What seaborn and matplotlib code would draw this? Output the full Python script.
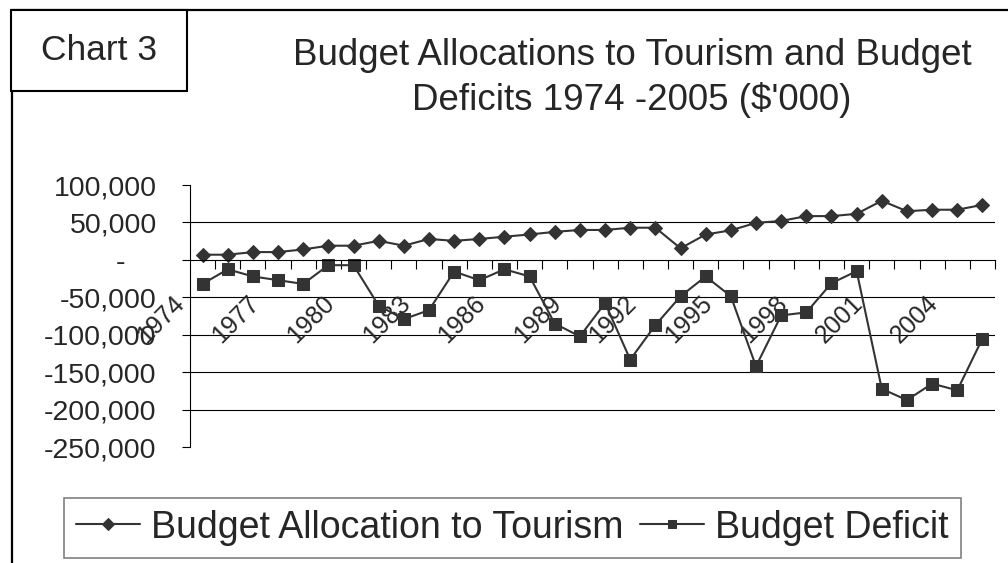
import pandas as pd
import seaborn as sns
import matplotlib.pyplot as plt
from matplotlib.ticker import FixedLocator, FuncFormatter
from matplotlib.transforms import ScaledTranslation
from matplotlib.patches import Rectangle

years = list(range(1974, 2006))
tourism = [7000, 7000, 10500, 10500, 14000, 19000, 19000, 25500, 19000, 28000,
           25500, 28000, 31000, 34000, 37500, 40000, 40000, 43000, 43000, 15500,
           34000, 39500, 49500, 52000, 58500, 58500, 61500, 79000, 65000, 67000,
           67000, 73500]
deficit = [-32000, -12500, -22000, -27000, -32000, -7000, -7000, -61000, -79000, -67000,
           -15500, -27000, -12500, -22000, -85000, -102000, -57500, -133000, -87000, -48500,
           -22000, -48500, -142000, -74000, -70000, -31000, -15000, -172000, -187000, -165000,
           -174000, -105000]
label_years = years[::3]
y_ticks = [100000, 50000, 0, -50000, -100000, -150000, -200000, -250000]

S1 = "Budget Allocation to Tourism"
S2 = "Budget Deficit"

df = pd.DataFrame({
    "Year": years * 2,
    "Value": tourism + deficit,
    "Series": [S1] * len(years) + [S2] * len(years),
})

sns.set_style("white")
plt.rcParams["font.family"] = ["Liberation Sans", "DejaVu Sans"]

fig = plt.figure(figsize=(10.08, 5.63), dpi=100)
W, H = 1008, 563
ax = fig.add_axes([190 / W, 1 - 447.3 / H, 805 / W, (447.3 - 185) / H])

dark = "#333333"
sns.lineplot(data=df, x="Year", y="Value", hue="Series", style="Series",
             palette={S1: dark, S2: dark}, markers={S1: "D", S2: "s"},
             dashes=False, linewidth=1.5, markersize=8, markeredgecolor=dark,
             ax=ax, legend=True)
for ln, ms in zip(ax.lines[:2], [7.2, 8.5]):
    ln.set_markersize(ms)

ax.set_xlim(1973.5, 2005.5)
ax.set_ylim(-250000, 100000)
ax.set_xlabel("")
ax.set_ylabel("")

# gridlines (no top / bottom)
for v in y_ticks[1:-1]:
    if v != 0:
        ax.axhline(v, color="black", linewidth=0.8, zorder=0)

for side in ["top", "right"]:
    ax.spines[side].set_visible(False)
ax.spines["left"].set_color("black")
ax.spines["left"].set_linewidth(0.8)
ax.spines["bottom"].set_position(("data", 0))
ax.spines["bottom"].set_color("black")
ax.spines["bottom"].set_linewidth(0.8)

ax.yaxis.set_major_locator(FixedLocator(y_ticks))
ax.yaxis.set_major_formatter(FuncFormatter(
    lambda v, p: "-    " if v == 0 else f"{int(v):,}"))
ax.tick_params(axis="y", which="major", direction="out", length=6, width=0.8,
               color="black", pad=18, labelsize=20.5, left=True)

ax.set_xticks(label_years)
ax.set_xticklabels([str(y) for y in label_years], rotation=45, ha="right",
                   va="top", rotation_mode="anchor")
ax.set_xticks([y + 0.5 for y in years[:-1]] + [2005.5], minor=True)
ax.tick_params(axis="x", which="major", length=0, pad=0, labelsize=18)
ax.tick_params(axis="x", which="minor", direction="out", length=6.5, width=0.8,
               color="black", bottom=True)
off = ScaledTranslation(-0.31, -0.31, fig.dpi_scale_trans)
for lab in ax.get_xticklabels():
    lab.set_transform(lab.get_transform() + off)

ax.legend(loc="center", bbox_to_anchor=(512.5 / W, 1 - 527.5 / H),
          bbox_transform=fig.transFigure, ncol=2, fontsize=27, frameon=True,
          fancybox=False, edgecolor="#808080", framealpha=1, markerscale=0.75,
          handlelength=1.7, handletextpad=0.3, columnspacing=0.45,
          borderpad=0.32, borderaxespad=0)
ax.get_legend().get_frame().set_linewidth(1.2)

# outer chart frame and "Chart 3" label box
fig.add_artist(Rectangle((12 / W, -0.1), 1.2, 1 - 10 / H + 0.1,
                         transform=fig.transFigure, fill=False,
                         edgecolor="black", linewidth=1.6))
fig.add_artist(Rectangle((11 / W, 1 - 91 / H), 176 / W, 81 / H,
                         transform=fig.transFigure, facecolor="white",
                         edgecolor="black", linewidth=1.5, zorder=5))
fig.text(99 / W, 1 - 51 / H, "Chart 3", ha="center", va="center",
         fontsize=25.5, zorder=6)

fig.text(632 / W, 1 - 78 / H,
         "Budget Allocations to Tourism and Budget\nDeficits 1974 -2005 ($'000)",
         ha="center", va="center", fontsize=26.5, linespacing=1.3)

fig.savefig("out.png", dpi=100)
